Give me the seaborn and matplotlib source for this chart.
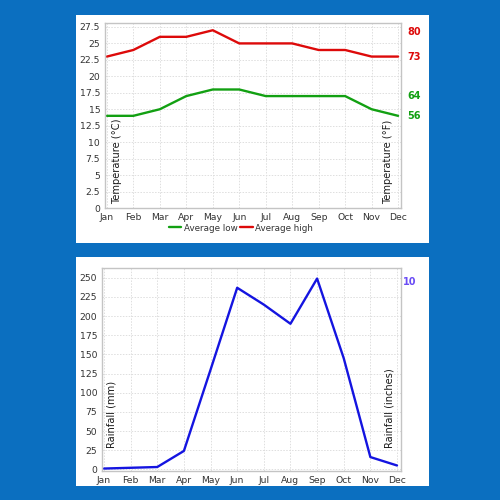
import matplotlib
matplotlib.use("Agg")
import matplotlib.pyplot as plt
from matplotlib.patches import Rectangle
import seaborn as sns
import pandas as pd

months = ["Jan", "Feb", "Mar", "Apr", "May", "Jun", "Jul", "Aug", "Sep", "Oct", "Nov", "Dec"]
avg_low_c = [14, 14, 15, 17, 18, 18, 17, 17, 17, 17, 15, 14]
avg_high_c = [23, 24, 26, 26, 27, 25, 25, 25, 24, 24, 23, 23]
rain_mm = [1, 2, 3, 24, 130, 237, 215, 190, 249, 145, 16, 5]
temp_ticks = [0, 2.5, 5, 7.5, 10, 12.5, 15, 17.5, 20, 22.5, 25, 27.5]
rain_ticks = [0, 25, 50, 75, 100, 125, 150, 175, 200, 225, 250]
high_f_labels = ["80", "73"]
low_f_labels = ["64", "56"]
rain_in_label = "10"

sns.set_style("white")
plt.rcParams["font.family"] = ["DejaVu Sans"]

BG = "#0b6fc0"
RED = "#dd0a0a"
GREEN = "#12a012"
BLUE = "#1414e0"
PURPLE = "#6a4cf5"
GRID = "#dedede"
SPINE = "#c4c4c4"
TXT = "#333333"

df = pd.DataFrame({"month": months, "x": range(len(months)),
                   "low": avg_low_c, "high": avg_high_c, "rain": rain_mm})

fig = plt.figure(figsize=(5, 5), dpi=100)
fig.patch.set_facecolor(BG)

# white panels
fig.patches.append(Rectangle((0.152, 0.514), 0.706, 0.456, transform=fig.transFigure,
                             facecolor="white", edgecolor="none", zorder=-5))
fig.patches.append(Rectangle((0.152, 0.028), 0.706, 0.458, transform=fig.transFigure,
                             facecolor="white", edgecolor="none", zorder=-5))

label_font = dict(family=["DejaVu Sans"], fontsize=7.1, color="#1a1a1a")


def style_axes(ax, yticks, ylabels):
    ax.set_facecolor("white")
    ax.set_xticks(range(len(months)))
    ax.set_xticklabels(months)
    ax.set_yticks(yticks)
    ax.set_yticklabels(ylabels)
    ax.grid(True, color=GRID, linestyle=(0, (1.5, 1.5)), linewidth=0.7)
    for s in ax.spines.values():
        s.set_color(SPINE)
        s.set_linewidth(1.0)
    ax.tick_params(axis="both", labelsize=6.7, colors=TXT, length=2, width=0.6, pad=1.5)
    ax.tick_params(axis="both", color="#999999")
    ax.set_xlabel("")
    ax.set_ylabel("")


def fmt(v):
    return str(int(v)) if float(v).is_integer() else str(v)


# ---------- temperature chart ----------
ax1 = fig.add_axes([0.21, 0.584, 0.592, 0.370])
sns.lineplot(data=df, x="x", y="low", ax=ax1, color=GREEN, linewidth=1.7, label="Average low")
sns.lineplot(data=df, x="x", y="high", ax=ax1, color=RED, linewidth=1.7, label="Average high")
ax1.set_xlim(-0.07, 11.11)
ax1.set_ylim(0, 28.1)
style_axes(ax1, temp_ticks, [fmt(t) for t in temp_ticks])
ax1.text(0.04, 0.02, "Temperature (°C)", transform=ax1.transAxes, rotation=90,
         ha="center", va="bottom", **label_font)
ax1.text(0.956, 0.02, "Temperature (°F)", transform=ax1.transAxes, rotation=90,
         ha="center", va="bottom", **label_font)
trans1 = ax1.get_yaxis_transform()
for lab, yv in zip(high_f_labels, [max(avg_high_c) - 0.3, min(avg_high_c)]):
    ax1.text(1.02, yv, lab, transform=trans1, color=RED, fontsize=7, fontweight="bold",
             ha="left", va="center", clip_on=False)
for lab, yv in zip(low_f_labels, [max(avg_low_c) - 1.0, min(avg_low_c)]):
    ax1.text(1.02, yv, lab, transform=trans1, color=GREEN, fontsize=7, fontweight="bold",
             ha="left", va="center", clip_on=False)
leg = ax1.legend(loc="upper center", bbox_to_anchor=(0.46, -0.065), ncol=2, frameon=False,
                 fontsize=6.3, handlelength=1.4, handletextpad=0.3, columnspacing=0.3,
                 borderaxespad=0)
for t in leg.get_texts():
    t.set_color(TXT)

# ---------- rainfall chart ----------
ax2 = fig.add_axes([0.204, 0.058, 0.598, 0.406])
sns.lineplot(data=df, x="x", y="rain", ax=ax2, color=BLUE, linewidth=1.7)
ax2.set_xlim(-0.075, 11.15)
ax2.set_ylim(-2.2, 262.8)
style_axes(ax2, rain_ticks, [fmt(t) for t in rain_ticks])
ax2.text(0.033, 0.113, "Rainfall (mm)", transform=ax2.transAxes, rotation=90,
         ha="center", va="bottom", **label_font)
ax2.text(0.963, 0.113, "Rainfall (inches)", transform=ax2.transAxes, rotation=90,
         ha="center", va="bottom", **label_font)
ax2.text(1.008, max(rain_mm) - 4, rain_in_label, transform=ax2.get_yaxis_transform(),
         color=PURPLE, fontsize=7, fontweight="bold", ha="left", va="center", clip_on=False)

fig.savefig("out.png", dpi=100, facecolor=BG)
